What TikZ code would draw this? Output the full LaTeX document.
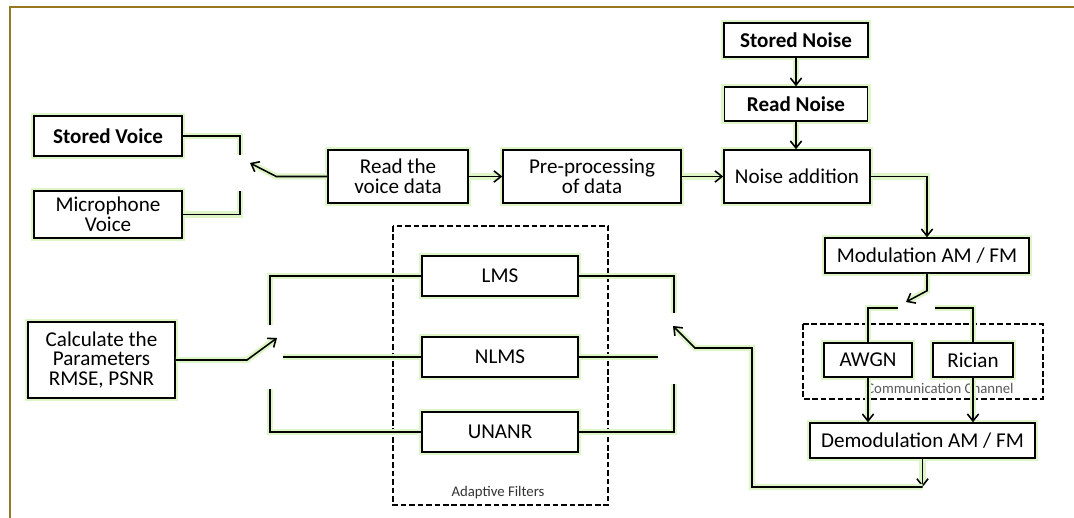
\documentclass[tikz,border=0pt]{standalone}
\usepackage{fontspec}
\setmainfont{Carlito}
\usetikzlibrary{arrows.meta}
\definecolor{glowgreen}{RGB}{222,245,200}
\definecolor{framecol}{RGB}{150,120,30}
\tikzset{
  glow/.style={preaction={draw=glowgreen,line width=4.5pt}},
  box/.style={draw,line width=1.1pt,glow,fill=white,align=center,inner sep=1pt,
    font=\fontsize{15}{14}\selectfont},
  bbox/.style={box,font=\fontsize{15}{14}\selectfont\bfseries},
  wire/.style={line width=1.1pt,glow},
  arr/.style={wire,-{Straight Barb[length=5pt,width=8pt,line width=1.1pt]}},
  dashbox/.style={draw,line width=0.9pt,dash pattern=on 4pt off 2pt},
  tag/.style={font=\fontsize{10.5}{11}\selectfont,text=black!80}
}
\begin{document}
\begin{tikzpicture}[x=0.025cm,y=-0.025cm]
\useasboundingbox (0,0) rectangle (1074,518);
\draw[framecol,line width=1.5pt] (10,518) -- (10,7) -- (1074,7);
            % Boxes
\node[bbox,minimum width=3.7cm,minimum height=1cm] (sv) at (108,136) {Stored Voice};
\node[box,minimum width=3.7cm,minimum height=1.175cm] (mv) at (108,214.5) {Microphone\\Voice};
\node[box,minimum width=3.5cm,minimum height=1.325cm] (rv) at (398,176.5) {Read the\\voice data};
\node[box,minimum width=4.45cm,minimum height=1.325cm] (pp) at (592,176.5) {Pre-processing\\of data};
\node[box,minimum width=3.65cm,minimum height=1.325cm] (na) at (797,176.5) {Noise addition};
\node[bbox,minimum width=3.6cm,minimum height=0.85cm] (sn) at (796,40) {Stored Noise};
\node[bbox,minimum width=3.575cm,minimum height=0.85cm] (rn) at (796,104) {Read Noise};
\node[box,minimum width=5.1cm,minimum height=0.875cm] (mod) at (927,255.5) {Modulation AM / FM};
\node[box,minimum width=2.2cm,minimum height=0.85cm] (awgn) at (868,360) {AWGN};
\node[box,minimum width=2cm,minimum height=0.85cm] (ric) at (973,360) {Rician};
\node[box,minimum width=5.625cm,minimum height=0.875cm] (dem) at (922.5,440.5) {Demodulation AM / FM};
\node[box,minimum width=3.9cm,minimum height=1cm] (lms) at (500,276) {LMS};
\node[box,minimum width=3.9cm,minimum height=1cm] (nlms) at (500,357) {NLMS};
\node[box,minimum width=3.9cm,minimum height=1cm] (unanr) at (500,432) {UNANR};
\node[box,minimum width=3.675cm,minimum height=1.9cm] (calc) at (101.5,360) {Calculate the\\Parameters\\RMSE, PSNR};
%Groups
\draw[dashbox] (393,226) rectangle (608,505);
\node[tag] (aflabel) at (498,493) {Adaptive Filters};
\draw[dashbox] (803,324) rectangle (1043,399);
\node[tag,text=black!65] (cclabel) at (940,388) {Communication Channel};
%Switch points
\coordinate (vsa) at (240,155);
\coordinate (vsb) at (240,191);
\coordinate (vsw) at (250,163);
\coordinate (csw) at (906,302);
\coordinate (csa) at (898,308);
\coordinate (csb) at (935,308);
\coordinate (ret) at (922.5,487);
\coordinate (fsw) at (673,326);
\coordinate (fsa) at (674,313);
\coordinate (fsb) at (658,357);
\coordinate (fsc) at (674,384);
\coordinate (psa) at (270,325);
\coordinate (psb) at (283,357);
\coordinate (psc) at (270,389);
\coordinate (psw) at (277,338);
%Links
\draw[wire] (sv.east) -| (vsa);
\draw[wire] (mv.east) -| (vsb);
\draw[arr] (rv.west) -- ++(-51,0) -- (vsw);
\draw[arr] (rv) -- (pp);
\draw[arr] (pp) -- (na);
\draw[arr] (sn) -- (rn);
\draw[arr] (rn) -- (na.north -| rn.south);
\draw[arr] (na.east) -| (mod.north);
\draw[arr] (mod.south) -- ++(0,17) -- (csw);
\draw[wire] (csa) -| (awgn.north);
\draw[wire] (csb) -| (ric.north);
\draw[arr] (awgn.south) -- (awgn.south |- dem.north);
\draw[arr] (ric.south) -- (ric.south |- dem.north);
\draw[arr] (dem.south) -- (ret);
\draw[arr] (ret) -- (752,487) -- (752,348) -- (695,348) -- (fsw);
\draw[wire] (lms.east) -| (fsa);
\draw[wire] (nlms.east) -- (fsb);
\draw[wire] (unanr.east) -| (fsc);
\draw[wire] (lms.west) -| (psa);
\draw[wire] (nlms.west) -- (psb);
\draw[wire] (unanr.west) -| (psc);
\draw[arr] (calc.east) -- (247,360) -- (psw);
\end{tikzpicture}
\end{document}
